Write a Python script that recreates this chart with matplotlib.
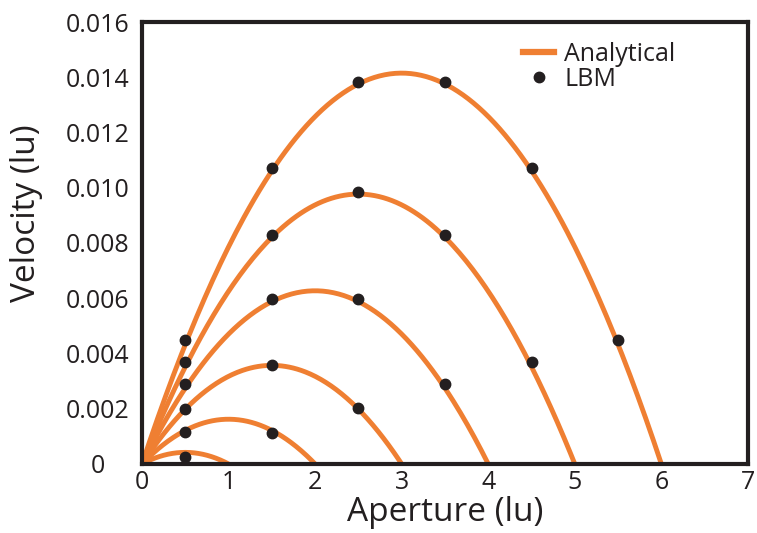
import numpy as np
import matplotlib
matplotlib.use("Agg")
import matplotlib.pyplot as plt
from matplotlib.lines import Line2D

plt.rcParams['font.family'] = ['Open Sans', 'DejaVu Sans']

# Channel apertures (lattice units) and peak velocity of each analytical profile
apertures = [1, 2, 3, 4, 5, 6]
peak_velocity = [0.00042, 0.00162, 0.00357, 0.00627, 0.00977, 0.01415]

# LBM node positions and velocities, one list per aperture
lbm_x = {
    1: [0.5],
    2: [0.5, 1.5],
    3: [0.5, 1.5, 2.5],
    4: [0.5, 1.5, 2.5, 3.5],
    5: [0.5, 1.5, 2.5, 3.5, 4.5],
    6: [0.5, 1.5, 2.5, 3.5, 4.5, 5.5],
}
lbm_u = {
    1: [0.00026],
    2: [0.00117, 0.00113],
    3: [0.00200, 0.00358, 0.00204],
    4: [0.00288, 0.00598, 0.00598, 0.00288],
    5: [0.00368, 0.00828, 0.00984, 0.00828, 0.00368],
    6: [0.00448, 0.01072, 0.01382, 0.01382, 0.01072, 0.00448],
}

x_ticks = [0, 1, 2, 3, 4, 5, 6, 7]
y_ticks = [0, 0.002, 0.004, 0.006, 0.008, 0.010, 0.012, 0.014, 0.016]
y_ticklabels = ['0', '0.002', '0.004', '0.006', '0.008', '0.010', '0.012', '0.014', '0.016']

orange = '#ef7f32'
dark = '#231f20'

fig = plt.figure(figsize=(7.57, 5.33), dpi=100)
ax = fig.add_axes([0.1876, 0.1295, 0.8004, 0.8292])

for h, umax in zip(apertures, peak_velocity):
    x = np.linspace(0, h, 200)
    u = umax * 4 * x * (h - x) / h ** 2
    ax.plot(x, u, color=orange, lw=3.5, solid_capstyle='butt', zorder=2)

for h in apertures:
    ax.plot(lbm_x[h], lbm_u[h], 'o', color=dark, ms=7.5, zorder=3)

ax.set_xlim(0, 7)
ax.set_ylim(0, 0.016)
ax.set_xticks(x_ticks)
ax.set_xticklabels([str(t) for t in x_ticks])
ax.set_yticks(y_ticks)
ax.set_yticklabels(y_ticklabels)
ax.tick_params(length=0, labelsize=18, colors=dark)
ax.tick_params(axis='x', pad=4)
ax.tick_params(axis='y', pad=32)
for lab in ax.get_yticklabels():
    lab.set_horizontalalignment('center')
for s in ax.spines.values():
    s.set_linewidth(3)
    s.set_color(dark)

ax.set_xlabel('Aperture (lu)', fontsize=24, color=dark)
ax.set_ylabel('Velocity (lu)', fontsize=24, color=dark)
ax.xaxis.set_label_coords(0.5, -0.072)
ax.yaxis.set_label_coords(-0.163, 0.568)

handles = [Line2D([], [], color=orange, lw=4.5),
           Line2D([], [], marker='o', ls='none', color=dark, ms=7.5)]
ax.legend(handles, ['Analytical', 'LBM'], loc='upper left',
          bbox_to_anchor=(0.629, 0.955), frameon=False, fontsize=18,
          borderpad=0, borderaxespad=0,
          handlelength=1.25, handletextpad=0.4, labelspacing=0.0,
          labelcolor=dark)

fig.savefig('out.png', dpi=100)
